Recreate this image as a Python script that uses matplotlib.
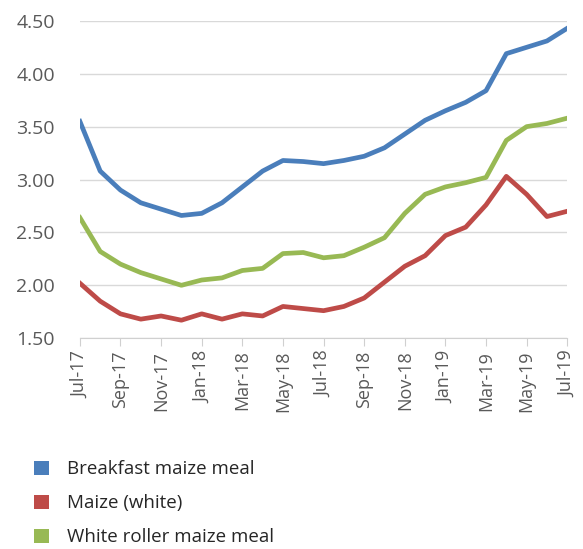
import matplotlib
matplotlib.use("Agg")
import matplotlib.pyplot as plt
from matplotlib.patches import Patch

# monthly series, Jul-17 .. Jul-19
months = ["Jul-17", "Aug-17", "Sep-17", "Oct-17", "Nov-17", "Dec-17",
          "Jan-18", "Feb-18", "Mar-18", "Apr-18", "May-18", "Jun-18",
          "Jul-18", "Aug-18", "Sep-18", "Oct-18", "Nov-18", "Dec-18",
          "Jan-19", "Feb-19", "Mar-19", "Apr-19", "May-19", "Jun-19", "Jul-19"]

breakfast = [3.55, 3.08, 2.90, 2.78, 2.72, 2.66, 2.68, 2.78, 2.93, 3.08, 3.18, 3.17, 3.15,
             3.18, 3.22, 3.30, 3.43, 3.56, 3.65, 3.73, 3.84, 4.19, 4.25, 4.31, 4.43]
maize_white = [2.02, 1.85, 1.73, 1.68, 1.71, 1.67, 1.73, 1.68, 1.73, 1.71, 1.80, 1.78, 1.76,
               1.80, 1.88, 2.03, 2.18, 2.28, 2.47, 2.55, 2.76, 3.03, 2.86, 2.65, 2.70]
white_roller = [2.64, 2.32, 2.20, 2.12, 2.06, 2.00, 2.05, 2.07, 2.14, 2.16, 2.30, 2.31, 2.26,
                2.28, 2.36, 2.45, 2.68, 2.86, 2.93, 2.97, 3.02, 3.37, 3.50, 3.53, 3.58]

series_names = ["Breakfast maize meal", "Maize (white)", "White roller maize meal"]
colors = ["#4a7ebb", "#be4b48", "#98b954"]

plt.rcParams['font.family'] = ['Open Sans', 'DejaVu Sans']
text_col = "#595959"

fig = plt.figure(figsize=(5.83, 5.49), dpi=100)
ax = fig.add_axes([0.137, 0.384, 0.836, 0.578])

x = list(range(len(months)))
for vals, c in zip([breakfast, maize_white, white_roller], colors):
    ax.plot(x, vals, color=c, linewidth=3.4, solid_joinstyle='round')

ax.set_xlim(0, len(months) - 1)
ax.set_ylim(1.5, 4.5)
ax.set_yticks([1.5, 2.0, 2.5, 3.0, 3.5, 4.0, 4.5])
ax.set_yticklabels([f"{v:.2f}" for v in ax.get_yticks()])
ax.set_xticks(x[::2])
ax.set_xticklabels(months[::2], rotation=90)

ax.grid(axis='y', color="#d9d9d9", linewidth=1)
ax.set_axisbelow(True)
for s in ['left', 'right', 'top']:
    ax.spines[s].set_visible(False)
ax.spines['bottom'].set_color("#d0d0d0")
ax.tick_params(axis='y', length=0, pad=18, labelsize=14, labelcolor=text_col)
ax.tick_params(axis='x', length=6, color="#d0d0d0", labelsize=13, labelcolor=text_col, pad=3)

# legend stacked under the axis
handles = [Patch(facecolor=c, edgecolor='none') for c in colors]
fig.legend(handles, series_names, loc='upper left', bbox_to_anchor=(0.045, 0.175),
           frameon=False, fontsize=13.5, labelcolor="#262626", handlelength=0.8, handleheight=0.8,
           handletextpad=0.95, labelspacing=0.85, borderaxespad=0)

fig.savefig("out.png", dpi=100)
